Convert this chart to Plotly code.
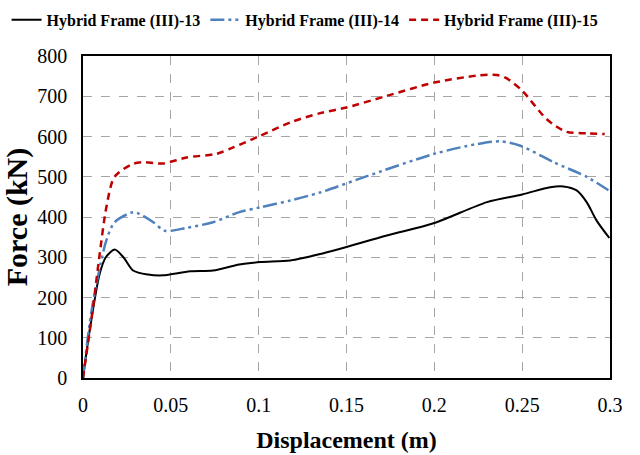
import plotly.graph_objects as go

# Hybrid Frame (III)-13
x13 = [0, 0.0038, 0.0095, 0.013, 0.018, 0.023, 0.0285, 0.037, 0.0456, 0.061, 0.074, 0.089, 0.101, 0.118,
       0.135, 0.173, 0.2, 0.23, 0.25, 0.266, 0.2735, 0.281, 0.2867, 0.2924, 0.2996]
y13 = [0, 118, 259, 300, 319, 300, 267, 257, 255, 265, 267, 282, 288, 292,
       308, 354, 385, 437, 456, 474, 476, 466, 437, 391, 348]

# Hybrid Frame (III)-14
x14 = [0, 0.005, 0.0133, 0.018, 0.0285, 0.032, 0.04, 0.0466, 0.059, 0.074, 0.089, 0.101, 0.118,
       0.135, 0.16, 0.2, 0.224, 0.2375, 0.249, 0.268, 0.287, 0.3]
y14 = [0, 170, 342, 387, 412, 408, 387, 366, 373, 387, 412, 424, 441,
       461, 499, 557, 581, 588, 577, 536, 499, 464]

# Hybrid Frame (III)-15
x15 = [0, 0.0057, 0.0095, 0.0133, 0.018, 0.0285, 0.034, 0.0456, 0.059, 0.076, 0.0855, 0.101, 0.118,
       0.135, 0.15, 0.173, 0.2, 0.224, 0.2356, 0.241, 0.25, 0.264, 0.275, 0.287, 0.297]
y15 = [0, 176, 308, 424, 500, 532, 536, 533, 548, 557, 573, 602, 635,
       658, 672, 701, 734, 751, 753, 745, 714, 643, 612, 608, 606]

xticks = [0, 0.05, 0.1, 0.15, 0.2, 0.25, 0.3]
xticklabels = ["0", "0.05", "0.1", "0.15", "0.2", "0.25", "0.3"]
yticks = [0, 100, 200, 300, 400, 500, 600, 700, 800]

FONT = "Liberation Serif"

fig = go.Figure()
fig.add_trace(go.Scatter(x=x13, y=y13, mode="lines", name="Hybrid Frame (III)-13",
                         line=dict(color="black", width=2, shape="spline", smoothing=0.8)))
fig.add_trace(go.Scatter(x=x14, y=y14, mode="lines", name="Hybrid Frame (III)-14",
                         line=dict(color="#4f81bd", width=2.5, shape="spline", smoothing=0.8,
                                   dash="14px,4px,3px,4px,3px,4px")))
fig.add_trace(go.Scatter(x=x15, y=y15, mode="lines", name="Hybrid Frame (III)-15",
                         line=dict(color="#c00000", width=2.5, shape="spline", smoothing=0.8,
                                   dash="7px,5px")))

fig.update_layout(
    width=640, height=455,
    margin=dict(l=83, r=30, t=56, b=77, autoexpand=False),
    paper_bgcolor="white", plot_bgcolor="white",
    font=dict(family=FONT, color="black", size=17),
    legend=dict(orientation="h", x=-0.145, xanchor="left", y=1.112, yanchor="middle",
                font=dict(family=FONT, size=16, color="black", weight="bold"),
                itemwidth=30, tracegroupgap=0, bgcolor="rgba(0,0,0,0)"),
    xaxis=dict(range=[0, 0.3], tickvals=xticks, ticktext=xticklabels,
               showline=True, linecolor="black", linewidth=1.5, mirror=True,
               showgrid=True, gridcolor="#a6a6a6", griddash="dash", gridwidth=1,
               zeroline=False, ticks="", tickfont=dict(family=FONT, size=20),
               ticklabelstandoff=8,
               title=dict(text="Displacement (m)", font=dict(family=FONT, size=24, weight="bold"), standoff=16)),
    yaxis=dict(range=[0, 800], tickvals=yticks,
               showline=True, linecolor="black", linewidth=1.5, mirror=True,
               showgrid=True, gridcolor="#a6a6a6", griddash="dash", gridwidth=1,
               zeroline=False, ticks="", tickfont=dict(family=FONT, size=20),
               ticklabelstandoff=10,
               title=dict(text="Force (kN)", font=dict(family=FONT, size=30, weight="bold"), standoff=6)),
)

fig.write_html("out.html")
